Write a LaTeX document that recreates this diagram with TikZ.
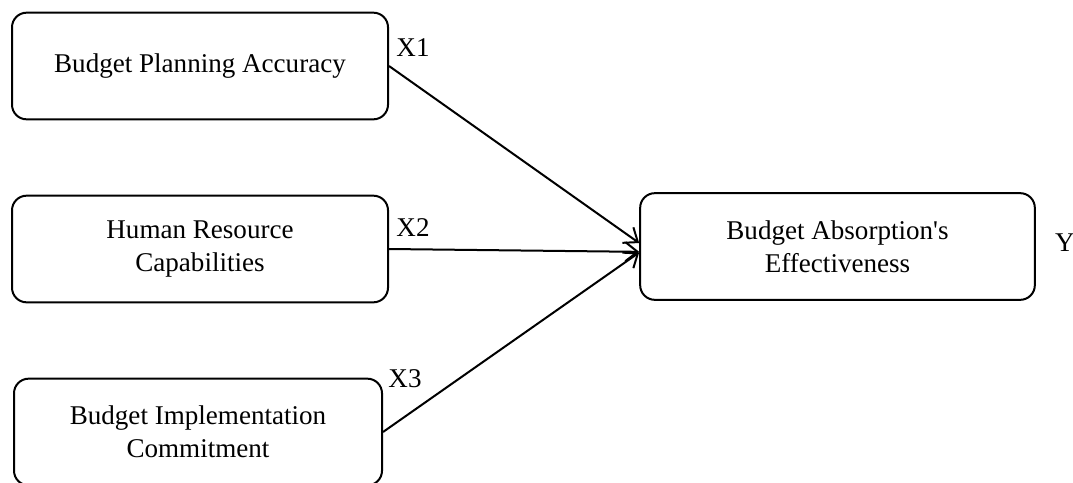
\documentclass[tikz,border=0pt]{standalone}
\usepackage{fontspec}
\setmainfont{Liberation Serif}
\usepackage{tikz}
\usetikzlibrary{positioning, arrows.meta}
\tikzset{
    factor/.style={draw=black, line width=1.5pt, rectangle, rounded corners=11pt, minimum width=282pt, minimum height=80pt, align=center, font=\fontsize{20.3}{24.5}\selectfont},
    tag/.style={font=\fontsize{20.3}{24.5}\selectfont, inner sep=0pt},
    link/.style={-{Straight Barb[length=3.2mm, width=5mm, line width=1.5pt]}, line width=1.5pt}
}

\begin{document}
\begin{tikzpicture}[x=0.75pt, y=-0.75pt]
\useasboundingbox (0,0) rectangle (1073,482);

% Nodes
\node[factor] (bpa) at (200,66) {Budget Planning Accuracy};
\node[factor] (hrc) at (200,249) {Human Resource\\Capabilities};
\node[factor, minimum width=276pt] (bic) at (198,432) {Budget Implementation\\Commitment};
\node[factor, minimum width=296pt] (bae) at (837.5,246.5) {Budget Absorption\textquotesingle s\\Effectiveness};

% Labels
\node[tag] (x1) at (413,48) {X1};
\node[tag] (x2) at (413,228) {X2};
\node[tag] (x3) at (405,379) {X3};
\node[tag] (y) at (1065,243) {Y};

% Arcs
\draw[link] (bpa.east) -- ([yshift=2.6pt]bae.west);
\draw[link] (hrc.east) -- ([yshift=-4pt]bae.west);
\draw[link] (bic.east) -- ([yshift=-4.5pt]bae.west);

\end{tikzpicture}
\end{document}
